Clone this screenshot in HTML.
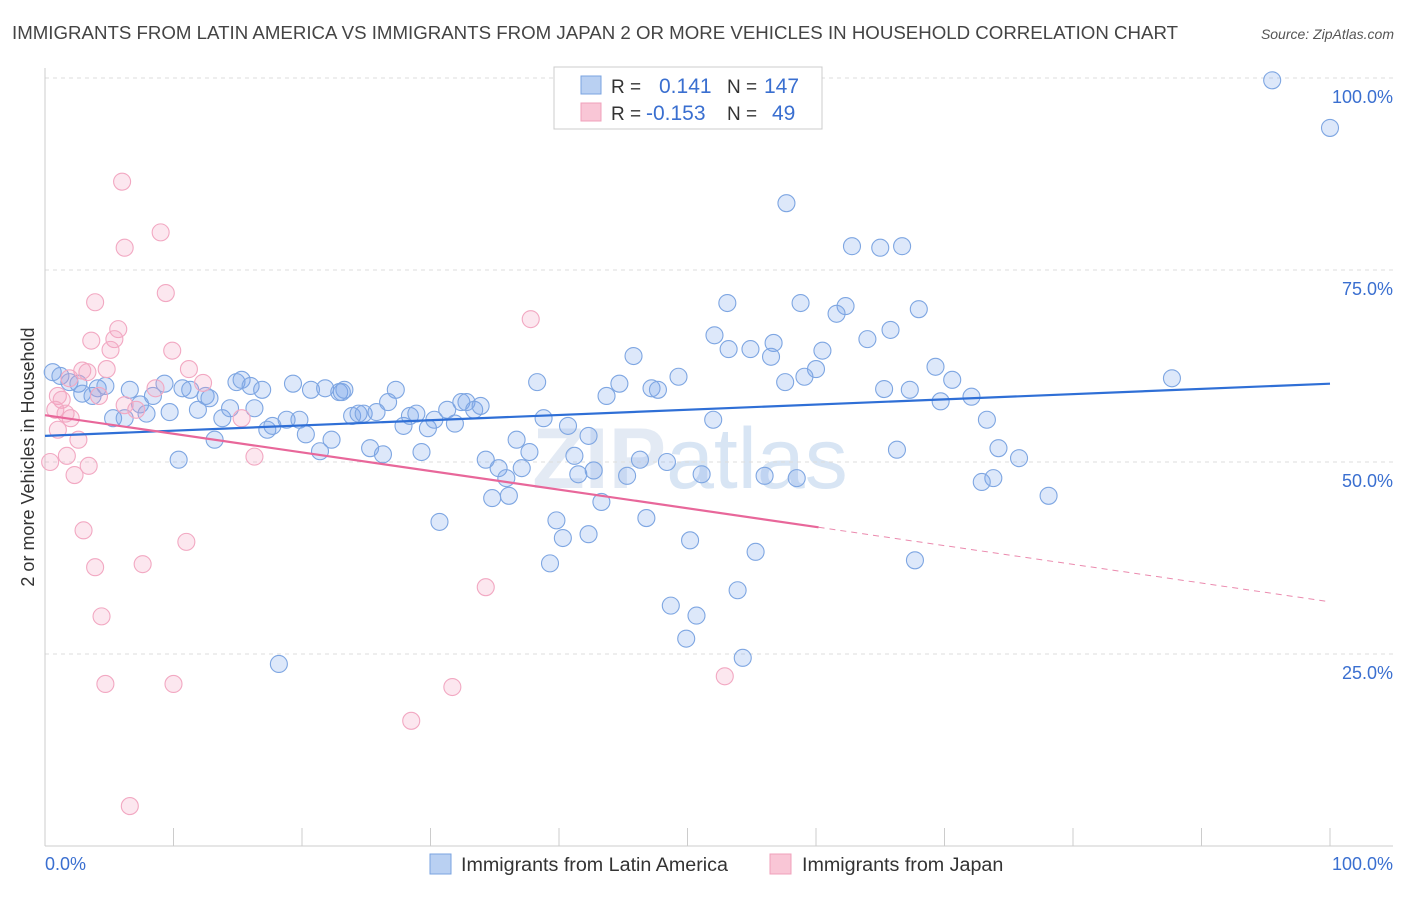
<!DOCTYPE html>
<html><head><meta charset="utf-8"><style>
body{margin:0;background:#fff;font-family:"Liberation Sans",sans-serif;}
svg text{font-family:"Liberation Sans",sans-serif;}
</style></head><body>
<svg id="chart" width="1406" height="892" xmlns="http://www.w3.org/2000/svg">
<text x="12" y="39" font-size="18" fill="#444" textLength="1166" lengthAdjust="spacingAndGlyphs">IMMIGRANTS FROM LATIN AMERICA VS IMMIGRANTS FROM JAPAN 2 OR MORE VEHICLES IN HOUSEHOLD CORRELATION CHART</text>
<text x="1394" y="39" font-size="14" fill="#555" text-anchor="end" font-style="italic">Source: ZipAtlas.com</text>
<text x="690" y="488" font-size="86" fill="#dde6f2" text-anchor="middle" font-weight="bold" opacity="0.8">ZIP<tspan font-weight="normal" fill="#cfdff2">atlas</tspan></text>
<g id="grid"></g>
<g id="axes"></g>
<g id="pts"></g>
<g id="trends"></g>
<g>
<rect x="554" y="67" width="268" height="62" fill="#fff" stroke="#ccc"/>
<rect x="581" y="76" width="20" height="18" fill="#b9d0f2" stroke="#7aa3e0"/>
<rect x="581" y="103" width="20" height="18" fill="#f9c6d6" stroke="#f0a0bb"/>
<text x="611" y="93" font-size="19" fill="#333">R =</text>
<text x="659" y="93" font-size="21" fill="#3a6fd0">0.141</text>
<text x="727" y="93" font-size="19" fill="#333">N =</text>
<text x="764" y="93" font-size="21" fill="#3a6fd0">147</text>
<text x="611" y="120" font-size="19" fill="#333">R =</text>
<text x="646" y="120" font-size="21" fill="#3a6fd0">-0.153</text>
<text x="727" y="120" font-size="19" fill="#333">N =</text>
<text x="772" y="120" font-size="21" fill="#3a6fd0">49</text>
</g>
<g>
<rect x="430" y="854" width="21" height="20" fill="#b9d0f2" stroke="#7aa3e0"/>
<text x="461" y="871" font-size="19.7" fill="#333">Immigrants from Latin America</text>
<rect x="770" y="854" width="21" height="20" fill="#f9c6d6" stroke="#f0a0bb"/>
<text x="802" y="871" font-size="19.7" fill="#333">Immigrants from Japan</text>
</g>
<text transform="translate(34,457) rotate(-90)" font-size="18" fill="#333" text-anchor="middle">2 or more Vehicles in Household</text>
</svg>
<script>
const blueX=[95.5,100,57.7,62.8,65.0,66.7,53.1,58.8,62.3,61.6,68.0,65.8,52.1,64.0,56.7,53.2,54.9,60.5,56.5,45.8,60.0,69.3,49.3,59.1,57.6,70.6,87.7,38.3,44.7,47.2,47.7,65.3,67.3,43.7,69.7,72.1,0.6,1.2,1.9,2.6,4.1,4.7,2.9,3.7,6.6,8.4,9.3,10.7,11.3,12.5,12.8,14.9,15.3,16.0,16.9,19.3,20.7,21.8,22.9,23.3,27.3,26.7,5.3,6.2,7.4,7.9,9.7,11.9,13.8,14.4,16.3,17.3,17.7,18.8,19.8,20.3,21.4,22.3,23.9,24.4,24.8,25.8,23.1,25.3,26.3,27.9,28.4,28.9,29.8,30.3,31.3,31.9,32.4,32.8,33.4,33.9,29.3,38.8,40.7,36.7,37.7,34.3,35.3,35.9,37.1,41.2,41.5,42.7,42.3,46.3,45.3,48.4,51.1,52.0,56.0,58.5,66.3,73.3,74.2,75.8,73.8,72.9,78.1,34.8,36.1,43.3,30.7,39.8,40.3,42.3,46.8,50.2,55.3,67.7,39.3,53.9,48.7,50.7,49.9,54.3,18.2,10.4,13.2];
const blueY=[99.7,93.5,83.7,78.1,77.9,78.1,70.7,70.7,70.3,69.3,69.9,67.2,66.5,66.0,65.5,64.7,64.7,64.5,63.7,63.8,62.1,62.4,61.1,61.1,60.4,60.7,60.9,60.4,60.2,59.6,59.4,59.5,59.4,58.6,57.9,58.5,61.7,61.2,60.4,60.2,59.6,59.9,58.9,58.6,59.4,58.6,60.2,59.6,59.4,58.6,58.3,60.4,60.7,59.9,59.4,60.2,59.4,59.6,59.1,59.4,59.4,57.8,55.7,55.7,57.5,56.3,56.5,56.8,55.7,57.0,57.0,54.2,54.7,55.5,55.5,53.6,51.4,52.9,56.0,56.3,56.3,56.5,59.1,51.8,51.0,54.7,56.0,56.3,54.4,55.5,56.8,55.0,57.8,57.8,56.8,57.3,51.3,55.7,54.7,52.9,51.3,50.3,49.2,47.9,49.2,50.8,48.4,48.9,53.4,50.3,48.2,50.0,48.4,55.5,48.2,47.9,51.6,55.5,51.8,50.5,47.9,47.4,45.6,45.3,45.6,44.8,42.2,42.4,40.1,40.6,42.7,39.8,38.3,37.2,36.8,33.3,31.3,30.0,27.0,24.5,23.7,50.3,52.9];
const pinkX=[6.0,9.0,6.2,9.4,3.9,37.8,5.7,5.4,3.6,5.1,9.9,4.8,11.2,2.9,3.3,1.9,12.3,8.6,1.0,4.2,1.3,0.8,1.6,6.2,2.0,7.1,15.3,1.0,2.6,1.7,0.4,16.3,3.4,2.3,3.0,11.0,7.6,3.9,34.3,4.4,4.7,10.0,52.9,31.7,28.5,6.6];
const pinkY=[86.5,79.9,77.9,72.0,70.8,68.6,67.3,66.0,65.8,64.6,64.5,62.1,62.1,61.9,61.7,60.9,60.3,59.6,58.6,58.6,58.1,56.8,56.3,57.4,55.7,56.8,55.7,54.2,52.9,50.8,50.0,50.7,49.5,48.3,41.1,39.6,36.7,36.3,33.7,29.9,21.1,21.1,22.1,20.7,16.3,5.2];
const blueTrendX=[0,100], blueTrendY=[53.4,60.2];
const pinkTrendX=[0,60.2,100], pinkTrendY=[56.1,41.5,31.8];
const yTicks=[25,50,75,100];
const xTicks=[0,10,20,30,40,50,60,70,80,90,100];

const X=v=>45+v*12.85, Y=v=>846-v*7.68;
const NS="http://www.w3.org/2000/svg";
function mk(tag,attrs,parent){const e=document.createElementNS(NS,tag);for(const k in attrs)e.setAttribute(k,attrs[k]);parent.appendChild(e);return e;}
const grid=document.getElementById('grid'),axes=document.getElementById('axes'),pts=document.getElementById('pts'),tr=document.getElementById('trends');
yTicks.forEach(t=>{
 const l=mk('line',{x1:45,x2:1393,y1:Y(t),y2:Y(t),stroke:'#ddd','stroke-dasharray':'4,4'},grid);
 
 
 const tx=mk('text',{x:1393,y:Y(t)+25,'font-size':18,fill:'#3a6fd0','text-anchor':'end'},grid);
 tx.textContent=t.toFixed(1)+'%';
 
 
});
mk('line',{x1:45,x2:45,y1:68,y2:846,stroke:'#ccc'},axes);
mk('line',{x1:45,x2:1393,y1:846,y2:846,stroke:'#ccc'},axes);
xTicks.forEach(t=>{
 const l=mk('line',{x1:X(t),x2:X(t),y1:828,y2:846,stroke:'#ccc'},axes);
 
 
});
const x0=mk('text',{x:45,y:870,'font-size':18,fill:'#3a6fd0'},axes);x0.textContent='0.0%';


const x1=mk('text',{x:1393,y:870,'font-size':18,fill:'#3a6fd0','text-anchor':'end'},axes);x1.textContent='100.0%';


blueX.forEach((v,i)=>{
 const c=mk('circle',{cx:X(v),cy:Y(blueY[i]),r:8.5,fill:'rgba(120,165,235,0.25)',stroke:'#7ea6e2','stroke-width':1.1},pts);
 
 
});
pinkX.forEach((v,i)=>{
 const c=mk('circle',{cx:X(v),cy:Y(pinkY[i]),r:8.5,fill:'rgba(245,160,190,0.25)',stroke:'#f2a8c2','stroke-width':1.1},pts);
 
 
});
const bl=mk('line',{x1:X(blueTrendX[0]),y1:Y(blueTrendY[0]),x2:X(blueTrendX[1]),y2:Y(blueTrendY[1]),stroke:'#2f6fd6','stroke-width':2.2},tr);


const pl=mk('line',{x1:X(pinkTrendX[0]),y1:Y(pinkTrendY[0]),x2:X(pinkTrendX[1]),y2:Y(pinkTrendY[1]),stroke:'#e8679a','stroke-width':2.2},tr);


const pd=mk('line',{x1:X(pinkTrendX[1]),y1:Y(pinkTrendY[1]),x2:X(pinkTrendX[2]),y2:Y(pinkTrendY[2]),stroke:'#eb8aae','stroke-width':1,'stroke-dasharray':'6,5'},tr);


</script>
</body></html>
